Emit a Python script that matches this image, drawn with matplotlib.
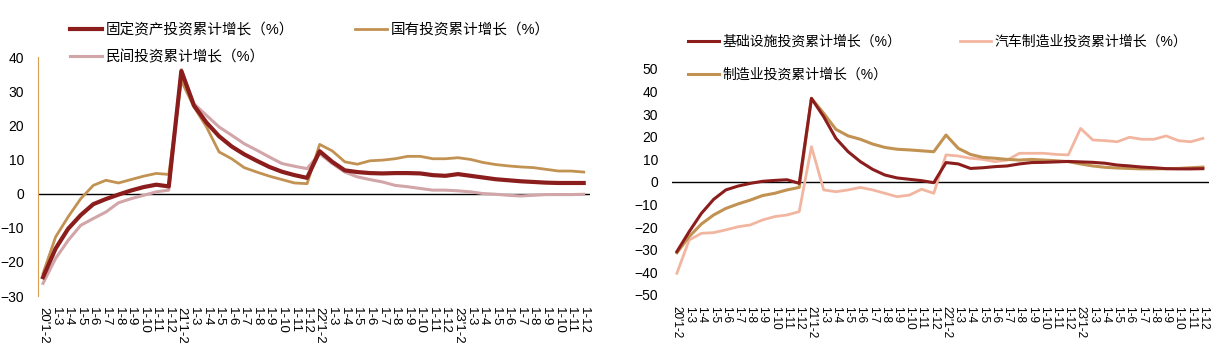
import matplotlib
matplotlib.use("Agg")
import matplotlib.pyplot as plt
from matplotlib.lines import Line2D

plt.rcParams["font.family"] = ["Liberation Sans", "Noto Sans CJK SC"]

# x-axis labels: 2020-2023, cumulative Jan-Feb .. Jan-Dec
months = ["1-2", "1-3", "1-4", "1-5", "1-6", "1-7", "1-8", "1-9", "1-10", "1-11", "1-12"]
years = ["20", "21", "22", "23"]
labels = []
for y in years:
    for m in months:
        labels.append(f"{y}'{m}" if m == "1-2" else m)

# left chart: 固定资产 / 国有 / 民间
fai = [-24.5, -16.1, -10.3, -6.3, -3.1, -1.6, -0.3, 0.9, 1.9, 2.6, 2.1,
       35.9, 25.8, 20.8, 16.8, 13.8, 11.5, 9.6, 7.8, 6.4, 5.4, 4.6,
       12.4, 9.3, 6.8, 6.3, 6.0, 5.9, 6.0, 6.0, 5.9, 5.4, 5.2,
       5.7, 5.2, 4.7, 4.2, 3.9, 3.6, 3.4, 3.2, 3.1, 3.1, 3.1]
soe = [-23.4, -12.7, -6.8, -1.5, 2.4, 3.9, 3.1, 4.1, 5.1, 5.9, 5.6,
       33.0, 25.4, 19.5, 12.2, 10.2, 7.6, 6.3, 5.1, 4.1, 3.1, 2.9,
       14.4, 12.5, 9.3, 8.6, 9.6, 9.8, 10.2, 10.9, 10.9, 10.2, 10.2,
       10.5, 10.0, 9.1, 8.5, 8.1, 7.8, 7.6, 7.1, 6.6, 6.6, 6.3]
private = [-26.3, -19.0, -13.7, -9.3, -7.3, -5.4, -2.7, -1.5, -0.5, 0.5, 1.0,
           36.3, 26.3, 22.9, 19.5, 17.1, 14.6, 12.7, 10.7, 8.8, 8.0, 7.3,
           11.7, 8.8, 6.3, 4.9, 4.1, 3.4, 2.4, 2.0, 1.5, 1.0, 1.0,
           0.8, 0.5, 0.0, -0.2, -0.5, -0.7, -0.5, -0.3, -0.3, -0.3, -0.2]

# right chart: 基础设施 / 汽车制造业 / 制造业
infra = [-30.8, -22.0, -13.9, -7.7, -3.5, -1.8, -0.6, 0.3, 0.7, 1.0, -0.6,
         37.0, 28.9, 19.3, 13.4, 9.0, 5.6, 3.1, 1.8, 1.2, 0.6, -0.3,
         8.6, 8.0, 6.0, 6.3, 6.8, 7.1, 8.0, 8.6, 8.7, 8.9, 9.1,
         8.9, 8.7, 8.3, 7.5, 7.1, 6.6, 6.3, 5.9, 5.8, 5.8, 5.9]
auto = [-40.4, -25.7, -22.7, -22.4, -21.2, -19.8, -19.0, -16.8, -15.3, -14.6, -13.1,
        15.6, -3.5, -4.3, -3.5, -2.4, -3.5, -5.0, -6.5, -5.8, -3.2, -5.0,
        12.0, 11.5, 10.5, 10.0, 9.0, 9.7, 12.7, 12.7, 12.7, 12.2, 12.0,
        23.7, 18.6, 18.3, 17.8, 19.8, 18.9, 18.9, 20.4, 18.3, 17.8, 19.3]
manuf = [-31.3, -24.2, -18.6, -14.6, -11.7, -9.7, -8.0, -6.0, -5.0, -3.5, -2.4,
         37.0, 30.4, 23.3, 20.4, 18.9, 16.8, 15.3, 14.5, 14.2, 13.8, 13.4,
         20.8, 14.9, 12.2, 10.9, 10.5, 10.0, 9.7, 10.0, 9.7, 9.4, 9.0,
         8.0, 7.1, 6.5, 6.2, 6.0, 5.8, 5.8, 5.9, 6.0, 6.3, 6.6]

DARK_RED = "#8C1D1D"
GOLD = "#C29252"
PINK = "#D2A5A9"
SALMON = "#F2B6A0"

W, H = 1220, 352
fig = plt.figure(figsize=(W / 100, H / 100), dpi=100)

x = list(range(len(labels)))


def setup(ax, ylim, yticks, xfs):
    ax.set_xlim(-0.4, len(labels) - 0.5)
    ax.set_ylim(*ylim)
    ax.set_yticks(yticks)
    ax.set_xticks(x)
    ax.set_xticklabels(labels, rotation=270, fontsize=xfs)
    ax.tick_params(axis="x", length=0, pad=8)
    ax.tick_params(axis="y", length=0, pad=10, labelsize=10)
    for s in ("top", "right", "bottom"):
        ax.spines[s].set_visible(False)
    ax.axhline(0, color="black", lw=1, zorder=1)


def add_legend(handle, text, px, py, size):
    return fig.legend([handle], [text], loc="center left",
                      bbox_to_anchor=(px / W, 1 - py / H), frameon=False,
                      borderpad=0, borderaxespad=0, handlelength=2.2,
                      handletextpad=0.25, prop={"size": size})


# ---- left chart
ax1 = fig.add_axes([38 / W, 1 - 296 / H, 552 / W, 239 / H])
setup(ax1, (-30, 40), range(-30, 41, 10), 9.5)
ax1.spines["left"].set_color("#D9A050")
ax1.plot(x, fai, color=DARK_RED, lw=3.0, zorder=4)
ax1.plot(x, soe, color=GOLD, lw=2.0, zorder=3)
ax1.plot(x, private, color=PINK, lw=2.2, zorder=2)

add_legend(Line2D([], [], color=DARK_RED, lw=3.0), "固定资产投资累计增长（%）", 70, 30, 10.5)
add_legend(Line2D([], [], color=GOLD, lw=2.0), "国有投资累计增长（%）", 355, 30, 10.5)
add_legend(Line2D([], [], color=PINK, lw=2.2), "民间投资累计增长（%）", 70, 57, 10.5)

# ---- right chart
ax2 = fig.add_axes([672 / W, 1 - 295 / H, 537 / W, 226 / H])
setup(ax2, (-50, 50), range(-50, 51, 10), 8.5)
ax2.spines["left"].set_visible(False)
ax2.plot(x, auto, color=SALMON, lw=2.0, zorder=2)
ax2.plot(x, manuf, color=GOLD, lw=2.2, zorder=3)
ax2.plot(x, infra, color=DARK_RED, lw=2.2, zorder=4)

add_legend(Line2D([], [], color=DARK_RED, lw=2.2), "基础设施投资累计增长（%）", 688, 42, 10)
add_legend(Line2D([], [], color=SALMON, lw=2.0), "汽车制造业投资累计增长（%）", 960, 42, 10)
add_legend(Line2D([], [], color=GOLD, lw=2.2), "制造业投资累计增长（%）", 688, 75, 10)

fig.savefig("out.png", dpi=100)
